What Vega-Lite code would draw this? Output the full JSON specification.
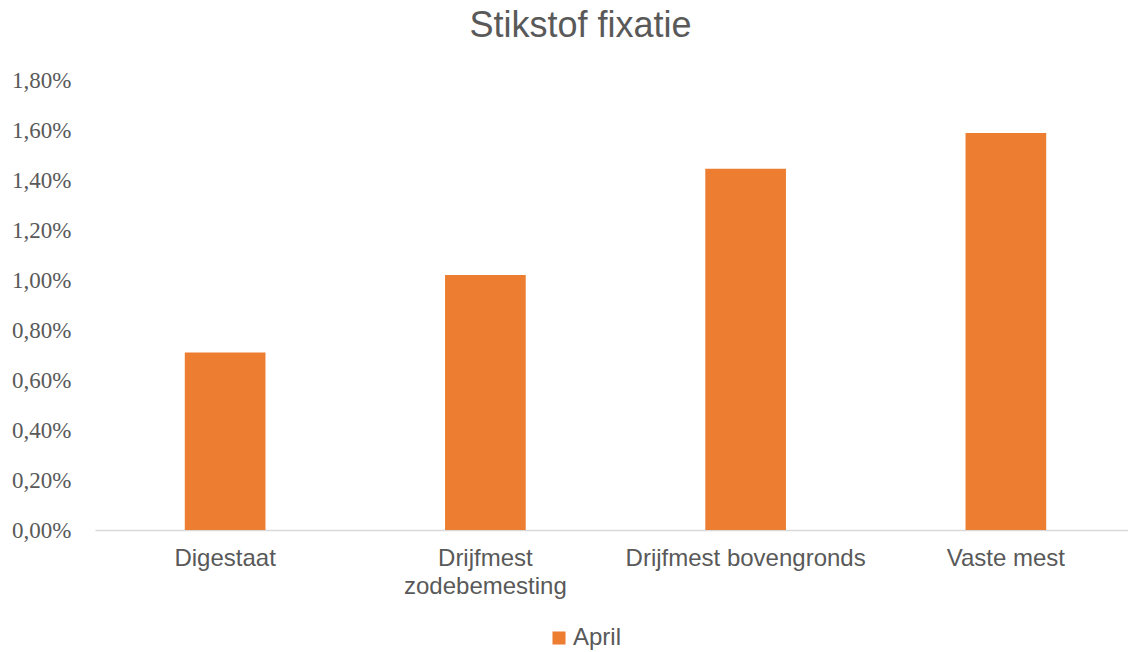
{
  "$schema": "https://vega.github.io/schema/vega-lite/v6.json",
  "autosize": {"type": "none"},
  "padding": {"left": 95, "top": 80, "right": 0, "bottom": 122},
  "width": 1041,
  "height": 450,
  "background": "white",
  "title": {
    "text": "Stikstof fixatie",
    "font": "Liberation Sans",
    "fontSize": 36,
    "fontWeight": "normal",
    "color": "#595959",
    "anchor": "middle",
    "dx": -35,
    "offset": 24
  },
  "data": {
    "values": [
      {"categorie": "Digestaat", "maand": "April", "waarde": 0.0071},
      {"categorie": "Drijfmest zodebemesting", "maand": "April", "waarde": 0.0102},
      {"categorie": "Drijfmest bovengronds", "maand": "April", "waarde": 0.01445},
      {"categorie": "Vaste mest", "maand": "April", "waarde": 0.01588}
    ]
  },
  "mark": {"type": "bar"},
  "encoding": {
    "x": {
      "field": "categorie",
      "type": "nominal",
      "sort": null,
      "scale": {"paddingInner": 0.69, "paddingOuter": 0.345},
      "axis": {
        "title": null,
        "labelAngle": 0,
        "labelFont": "Liberation Sans",
        "labelFontSize": 24,
        "labelColor": "#595959",
        "labelPadding": 16,
        "labelLineHeight": 28,
        "labelLimit": 400,
        "labelExpr": "datum.value == 'Drijfmest zodebemesting' ? ['Drijfmest', 'zodebemesting'] : datum.value",
        "ticks": false,
        "domainColor": "#d9d9d9",
        "domainWidth": 1.5,
        "grid": false
      }
    },
    "y": {
      "field": "waarde",
      "type": "quantitative",
      "scale": {"domain": [0, 0.018], "nice": false},
      "axis": {
        "title": null,
        "values": [0, 0.002, 0.004, 0.006, 0.008, 0.01, 0.012, 0.014, 0.016, 0.018],
        "labelExpr": "replace(format(datum.value, '.2%'), '.', ',')",
        "labelFont": "Liberation Serif",
        "labelFontSize": 23,
        "labelColor": "#595959",
        "labelPadding": 24,
        "ticks": false,
        "domain": false,
        "grid": false
      }
    },
    "color": {
      "field": "maand",
      "type": "nominal",
      "scale": {"range": ["#ED7D31"]},
      "legend": {
        "title": null,
        "orient": "none",
        "legendX": 452,
        "legendY": 546,
        "symbolType": "square",
        "symbolSize": 170,
        "symbolStrokeWidth": 0,
        "labelFont": "Liberation Sans",
        "labelFontSize": 24,
        "labelColor": "#595959",
        "labelOffset": 2
      }
    }
  },
  "config": {"view": {"stroke": null}}
}
